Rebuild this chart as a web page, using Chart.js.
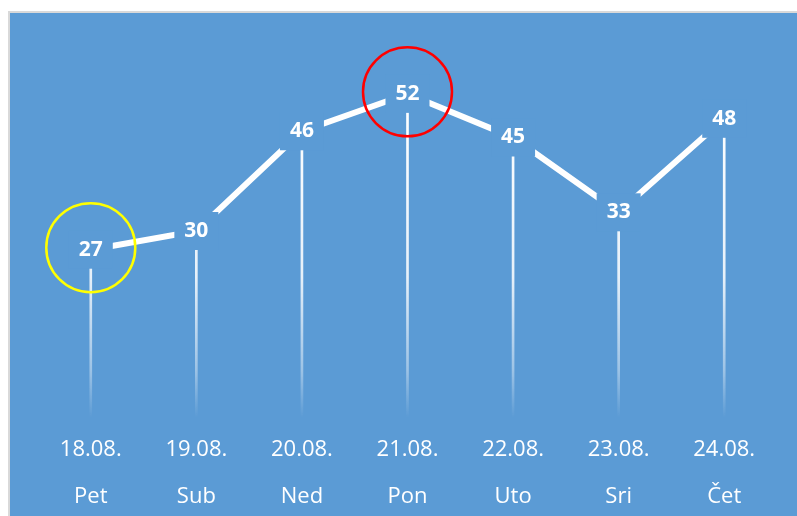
<!DOCTYPE html>
<html>
<head>
<meta charset="utf-8">
<script src="https://cdn.jsdelivr.net/npm/chart.js@4.4.0/dist/chart.umd.min.js"></script>
<style>
  html, body { margin: 0; padding: 0; background: #fff; overflow: hidden; }
  #frame {
    position: absolute; left: 8px; top: 11px;
    width: 789px; height: 515px;
    box-sizing: border-box;
    border-left: 2px solid #d9d9d9; border-top: 2px solid #d9d9d9;
    background: #5b9bd5;
  }
  canvas { display: block; }
</style>
</head>
<body>
<div id="frame"><canvas id="chart" width="787" height="508"></canvas></div>
<script>
const dates = ['18.08.', '19.08.', '20.08.', '21.08.', '22.08.', '23.08.', '24.08.'];
const days = ['Pet', 'Sub', 'Ned', 'Pon', 'Uto', 'Sri', 'Čet'];
const values = [27, 30, 46, 52, 45, 33, 48];
const circledPoints = [0, 3];
const circleColors = ['#ffff00', '#ff0000'];

const BG = '#5b9bd5';

// value labels sit on a blue box that cuts the line and the drop line
const labelPlugin = {
    id: 'valueLabels',
    afterDatasetsDraw(chart) {
        const ctx = chart.ctx;
        const meta = chart.getDatasetMeta(0);
        ctx.save();
        meta.data.forEach((pt, i) => {
            ctx.fillStyle = BG;
            ctx.fillRect(pt.x - 22, pt.y - 19, 44, 38);
            ctx.fillStyle = '#fff';
            ctx.font = 'bold 21px "Open Sans"';
            ctx.textAlign = 'center';
            ctx.textBaseline = 'middle';
            ctx.fillText(values[i], pt.x, pt.y);
        });
        circledPoints.forEach((idx, k) => {
            const pt = meta.data[idx];
            ctx.beginPath();
            ctx.arc(pt.x, pt.y - 2, 44.5, 0, Math.PI * 2);
            ctx.strokeStyle = circleColors[k];
            ctx.lineWidth = 2.5;
            ctx.stroke();
        });
        ctx.restore();
    }
};

function dropGradient(context) {
    const { chart } = context;
    const area = chart.chartArea;
    if (!area) return '#fff';
    const g = chart.ctx.createLinearGradient(0, area.top + 60, 0, area.bottom);
    g.addColorStop(0, 'rgba(255,255,255,1)');
    g.addColorStop(0.55, 'rgba(255,255,255,0.85)');
    g.addColorStop(0.85, 'rgba(255,255,255,0.4)');
    g.addColorStop(1, 'rgba(255,255,255,0)');
    return g;
}

new Chart(document.getElementById('chart'), {
    type: 'bar',
    data: {
        labels: dates.map((d, i) => [d, days[i]]),
        datasets: [
            {
                type: 'line',
                data: values,
                borderColor: '#fff',
                borderWidth: 6,
                borderCapStyle: 'butt',
                pointRadius: 0,
                tension: 0,
                order: 0
            },
            {
                type: 'bar',
                data: values,
                backgroundColor: dropGradient,
                barThickness: 2,
                order: 1
            }
        ]
    },
    options: {
        responsive: false,
        animation: false,
        layout: { padding: { top: 31, left: 28, right: 20, bottom: 0 } },
        plugins: {
            legend: { display: false },
            tooltip: { enabled: false }
        },
        scales: {
            y: { display: false, min: 0, max: 60 },
            x: {
                grid: { display: false },
                border: { display: false },
                ticks: {
                    color: '#fff',
                    padding: 0.5,
                    font: { family: 'Open Sans', size: 22, lineHeight: 47 / 22 }
                }
            }
        }
    },
    plugins: [labelPlugin]
});
</script>
</body>
</html>
